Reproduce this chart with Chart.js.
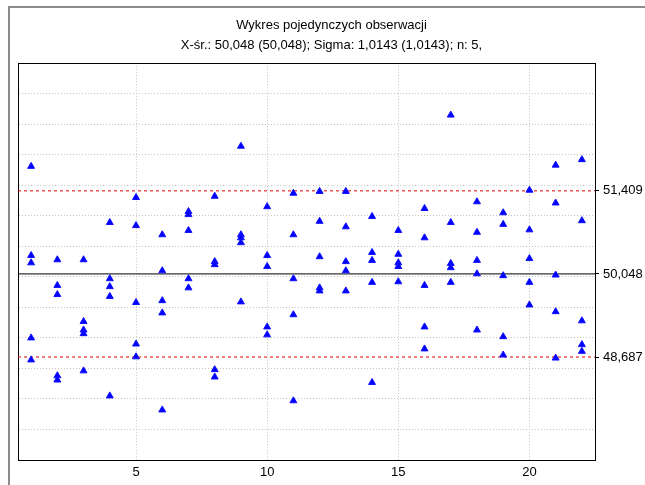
<!DOCTYPE html>
<html>
<head>
<meta charset="utf-8">
<script src="https://cdn.jsdelivr.net/npm/chart.js@4.4.0/dist/chart.umd.min.js"></script>
<style>
  html, body { margin: 0; padding: 0; background: #fff; }
  #frame { position: absolute; left: 8px; top: 6px; width: 700px; height: 500px;
           border-left: 2px solid #8c8c8c; border-top: 2px solid #8c8c8c; }
  #wrap { position: absolute; left: 0; top: 0; width: 645px; height: 485px; }
</style>
</head>
<body>
<div id="frame"></div>
<div id="wrap"><canvas id="chart" width="645" height="485"></canvas></div>
<script>
    // 5 observations per sample, 22 samples
    const samples = [
      [51.81, 50.35, 50.23, 49.00, 48.64],
      [50.28, 49.86, 49.71, 48.38, 48.31],
      [50.28, 49.27, 49.13, 49.07, 48.46],
      [50.89, 49.97, 49.84, 49.68, 48.05],
      [51.30, 50.84, 49.58, 48.90, 48.69],
      [50.69, 50.10, 49.61, 49.41, 47.82],
      [51.07, 51.02, 50.76, 49.97, 49.82],
      [51.32, 50.25, 50.20, 48.48, 48.36],
      [52.14, 50.69, 50.64, 50.56, 49.59],
      [51.15, 50.35, 50.17, 49.18, 49.05],
      [51.37, 50.69, 49.97, 49.38, 47.97],
      [51.40, 50.91, 50.33, 49.82, 49.77],
      [51.40, 50.82, 50.25, 50.10, 49.77],
      [50.99, 50.40, 50.27, 49.91, 48.27],
      [50.76, 50.37, 50.23, 50.17, 49.92],
      [51.12, 50.64, 49.86, 49.18, 48.82],
      [52.65, 50.89, 50.22, 50.15, 49.91],
      [51.23, 50.73, 50.27, 50.05, 49.13],
      [51.05, 50.86, 50.02, 49.02, 48.72],
      [51.42, 50.77, 50.30, 49.91, 49.54],
      [51.83, 51.21, 50.03, 49.43, 48.67],
      [51.92, 50.92, 49.28, 48.89, 48.78]
    ];

    const centerLine = 50.048;
    const upperLimit = 51.409;
    const lowerLimit = 48.687;
    const limitTicks = [lowerLimit, centerLine, upperLimit];

    const xTicks = [5, 10, 15, 20];
    const xRange = [0.5, 22.5];
    const yRange = [47, 53.5];

    const titleText = 'Wykres pojedynczych obserwacji';
    const subtitleText = 'X-śr.: 50,048 (50,048); Sigma: 1,0143 (1,0143); n: 5,';

    const points = [];
    samples.forEach((obs, i) => {
      obs.forEach(v => points.push({ x: i + 1, y: v }));
    });

    const hLine = v => xRange.map(x => ({ x: x, y: v }));
    const fontFam = '"Liberation Sans", Arial, sans-serif';
    const gridColor = '#c4c4c4';
    const setTicks = list => scale => { scale.ticks = list.map(v => ({ value: v })); };

    const ctx = document.getElementById('chart').getContext('2d');
    new Chart(ctx, {
      type: 'scatter',
      data: {
        datasets: [{
          data: points,
          pointStyle: 'triangle',
          pointRadius: 4,
          backgroundColor: '#0000ff',
          borderColor: '#1010ff',
          borderWidth: 1,
          order: 0
        }, {
          data: hLine(centerLine),
          showLine: true,
          borderColor: '#000',
          borderWidth: 1,
          pointRadius: 0,
          order: 1
        }, {
          data: hLine(upperLimit),
          showLine: true,
          borderColor: '#e00000',
          borderWidth: 1,
          borderDash: [3, 3],
          pointRadius: 0,
          order: 1
        }, {
          data: hLine(lowerLimit),
          showLine: true,
          borderColor: '#e00000',
          borderWidth: 1,
          borderDash: [3, 3],
          pointRadius: 0,
          order: 1
        }]
      },
      options: {
        responsive: false,
        animation: false,
        layout: { padding: { left: 18, right: 0, top: 0, bottom: 0 } },
        plugins: {
          legend: { display: false },
          tooltip: { enabled: false },
          title: {
            display: true,
            text: titleText,
            color: '#000',
            font: { family: fontFam, size: 13, weight: 'normal' },
            padding: { top: 18, bottom: 3 }
          },
          subtitle: {
            display: true,
            text: subtitleText,
            color: '#000',
            font: { family: fontFam, size: 13, weight: 'normal' },
            padding: { top: 1, bottom: 10 }
          }
        },
        scales: {
          x: {
            type: 'linear',
            position: 'bottom',
            min: xRange[0],
            max: xRange[1],
            afterBuildTicks: setTicks(xTicks),
            afterFit: scale => { scale.height = 25; },
            ticks: { autoSkip: false, maxRotation: 0, color: '#000', padding: 5,
                     font: { family: fontFam, size: 13 } },
            grid: { color: gridColor, drawTicks: false },
            border: { color: '#000', width: 1, dash: [1, 2] }
          },
          x2: {
            type: 'linear',
            position: 'top',
            min: xRange[0],
            max: xRange[1],
            afterBuildTicks: setTicks(xTicks),
            ticks: { display: false },
            grid: { drawOnChartArea: false, drawTicks: false },
            border: { color: '#000', width: 1 }
          },
          y: {
            type: 'linear',
            position: 'left',
            min: yRange[0],
            max: yRange[1],
            ticks: { stepSize: 0.5, display: false },
            grid: { color: gridColor, drawTicks: false },
            border: { color: '#000', width: 1, dash: [1, 2] }
          },
          y2: {
            type: 'linear',
            position: 'right',
            min: yRange[0],
            max: yRange[1],
            afterBuildTicks: setTicks(limitTicks),
            afterFit: scale => { scale.width = 50; },
            ticks: {
              color: '#000',
              padding: 4,
              font: { family: fontFam, size: 13 },
              callback: v => v.toFixed(3).replace('.', ',')
            },
            grid: { drawOnChartArea: false, tickLength: 4, color: '#000' },
            border: { color: '#000', width: 1 }
          }
        }
      }
    });
</script>
</body>
</html>
